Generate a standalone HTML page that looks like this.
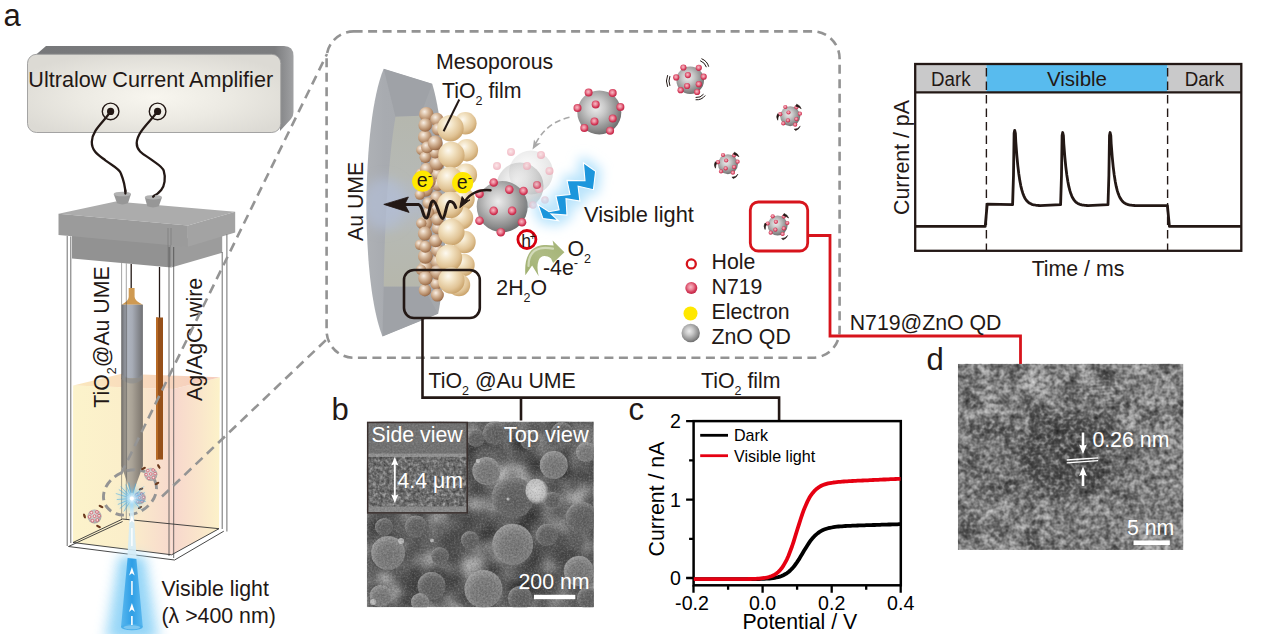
<!DOCTYPE html>
<html><head><meta charset="utf-8"><title>figure</title>
<style>
html,body{margin:0;padding:0;background:#fff;overflow:hidden}
svg{display:block}
text{font-family:"Liberation Sans",sans-serif;fill:#231815}
text.w{fill:#fff}
text.k{fill:#000}
</style></head><body>
<svg width="1269" height="634" viewBox="0 0 1269 634">
<defs>
<radialGradient id="ampFace" cx="0.5" cy="0.55" r="0.6"><stop offset="0" stop-color="#f8f6ef"/><stop offset="0.5" stop-color="#eceae3"/><stop offset="1" stop-color="#dcdad4"/></radialGradient>
<linearGradient id="ampSide" x1="0" y1="0" x2="1" y2="0"><stop offset="0" stop-color="#77787a"/><stop offset="0.93" stop-color="#7c7d7f"/><stop offset="1" stop-color="#a0a1a3"/></linearGradient>
<linearGradient id="cyl" x1="0" y1="0" x2="1" y2="0"><stop offset="0" stop-color="#6f7074"/><stop offset="0.3" stop-color="#aeb4bf"/><stop offset="0.5" stop-color="#a7acb6"/><stop offset="1" stop-color="#707174"/></linearGradient>
<linearGradient id="cylLiq" x1="0" y1="0" x2="1" y2="0"><stop offset="0" stop-color="#7a7672"/><stop offset="0.3" stop-color="#b3ac9f"/><stop offset="0.5" stop-color="#a9a296"/><stop offset="1" stop-color="#7b746c"/></linearGradient>
<linearGradient id="liqFront" x1="0" y1="0" x2="1" y2="0"><stop offset="0" stop-color="#fcf3cb"/><stop offset="0.55" stop-color="#fbeeca"/><stop offset="1" stop-color="#f7d8cd"/></linearGradient>
<linearGradient id="liqRight" x1="0" y1="0" x2="1" y2="0"><stop offset="0" stop-color="#f7d6cd"/><stop offset="0.6" stop-color="#fae6cb"/><stop offset="1" stop-color="#fcf2c9"/></linearGradient>
<linearGradient id="liqTop" x1="0" y1="0" x2="1" y2="0"><stop offset="0" stop-color="#fbe8bd"/><stop offset="0.5" stop-color="#f8d9bd"/><stop offset="1" stop-color="#f5cbbd"/></linearGradient>
<radialGradient id="gsph" cx="0.42" cy="0.4" r="0.62"><stop offset="0" stop-color="#ececec"/><stop offset="0.35" stop-color="#c8c8c8"/><stop offset="0.8" stop-color="#8c8c8c"/><stop offset="1" stop-color="#6c6c6c"/></radialGradient>
<radialGradient id="rdot" cx="0.45" cy="0.42" r="0.6"><stop offset="0" stop-color="#f6bcc6"/><stop offset="0.4" stop-color="#ea8094"/><stop offset="0.72" stop-color="#d43c5a"/><stop offset="1" stop-color="#bd2042"/></radialGradient>
<radialGradient id="pdot" cx="0.45" cy="0.42" r="0.6"><stop offset="0" stop-color="#fbe3e6"/><stop offset="0.6" stop-color="#f3bcc6"/><stop offset="1" stop-color="#eba6b4"/></radialGradient>
<radialGradient id="bsph" cx="0.38" cy="0.33" r="0.75"><stop offset="0" stop-color="#f8efe6"/><stop offset="0.35" stop-color="#d9bca0"/><stop offset="0.75" stop-color="#b08460"/><stop offset="1" stop-color="#875a3c"/></radialGradient>
<radialGradient id="csph" cx="0.38" cy="0.33" r="0.78"><stop offset="0" stop-color="#fdf9f0"/><stop offset="0.3" stop-color="#f2e2c2"/><stop offset="0.65" stop-color="#e1c496"/><stop offset="0.9" stop-color="#c9a26a"/><stop offset="1" stop-color="#a87f4c"/></radialGradient>
<linearGradient id="beam" x1="0" y1="0" x2="1" y2="0"><stop offset="0" stop-color="#59b7ee"/><stop offset="0.5" stop-color="#2f9fe6"/><stop offset="1" stop-color="#59b7ee"/></linearGradient>
<filter id="blur2" x="-50%" y="-50%" width="200%" height="200%"><feGaussianBlur stdDeviation="2"/></filter>
<filter id="blur4" x="-50%" y="-50%" width="200%" height="200%"><feGaussianBlur stdDeviation="4"/></filter>
<filter id="blur6" x="-100%" y="-100%" width="300%" height="300%"><feGaussianBlur stdDeviation="6"/></filter>
<g id="qdS"><circle r="10" fill="url(#gsph)"/><g fill="url(#rdot)"><circle cx="-4.9" cy="-9.2" r="2.1"/><circle cx="6.2" cy="-8.9" r="2.1"/><circle cx="-10.0" cy="-2.0" r="2.1"/><circle cx="-1.7" cy="-3.7" r="2.1"/><circle cx="9.7" cy="-2.5" r="2.1"/><circle cx="6.2" cy="2.9" r="2.1"/><circle cx="-2.2" cy="4.2" r="2.1"/><circle cx="-6.9" cy="7.2" r="2.1"/><circle cx="5.0" cy="8.5" r="2.1"/></g></g>
<g id="qdM"><circle r="13.8" fill="url(#gsph)"/><g fill="url(#rdot)"><circle cx="-6.8" cy="-12.7" r="3.1"/><circle cx="8.6" cy="-12.4" r="3.1"/><circle cx="-14.0" cy="-2.8" r="3.1"/><circle cx="-2.3" cy="-5.1" r="3.1"/><circle cx="13.5" cy="-3.5" r="3.1"/><circle cx="8.6" cy="4.0" r="3.1"/><circle cx="-3.1" cy="5.8" r="3.1"/><circle cx="-9.6" cy="10.0" r="3.1"/><circle cx="6.9" cy="11.8" r="3.1"/></g></g>
<g id="qdT"><circle r="10" fill="#d2cfcb"/><circle r="10" fill="url(#gsph)" opacity="0.45"/>
<g fill="#f6e6e3" stroke="#d2475c" stroke-width="1"><circle cx="-4.5" cy="-5.5" r="2"/><circle cx="3.5" cy="-6.5" r="2"/><circle cx="-7" cy="0.5" r="2"/><circle cx="0" cy="-0.5" r="2"/><circle cx="6.5" cy="-1" r="2"/><circle cx="4" cy="5" r="2"/><circle cx="-3" cy="6" r="2"/></g></g>
</defs>
<rect width="1269" height="634" fill="#fff"/>
<!-- ===== panel a : apparatus ===== -->
<text x="3.5" y="26" font-size="31">a</text>
<!-- amplifier -->
<path d="M27.5,62 L46,46 L284,46 Q293.5,46 293.5,56 L293.5,112 Q293.5,116 291,119 L280,131 L280,62 Z" fill="url(#ampSide)"/>
<rect x="27.500" y="54.300" width="253.300" height="78.200" rx="9" fill="url(#ampFace)" stroke="#9b9b9b" stroke-width="0.9"/>
<text x="28.3" y="87" font-size="21.6">Ultralow Current Amplifier</text>
<g fill="none" stroke="#231815" stroke-width="1.4"><circle cx="110.6" cy="111.4" r="8.3"/><circle cx="157.6" cy="111.4" r="8.3"/></g>
<circle cx="110.6" cy="111.4" r="3.6" fill="#231815"/><circle cx="157.6" cy="111.4" r="3.6" fill="#231815"/>
<!-- wires -->
<g fill="none" stroke="#231815" stroke-width="2.3" stroke-linecap="round">
<path d="M110.6,111.4 C104,122 92,130 91.8,141.7 C91.6,152 100,156 105.7,160.6 C113,166 119,168.5 120.8,173.2 C124,181 125.3,187 125.4,193.5"/>
<path d="M157.6,111.4 C150,122 137,132 136.7,143 C136.5,152 146,155.5 151,159.3 C157,164 162,166 163.7,170.7 C166,178 164.5,186 161.2,190 C159,193 156,195 153.1,196.5"/>
</g>
<!-- lid -->
<polygon points="72,232 171.3,242 171.3,267.6 72,258.6" fill="#929292"/>
<polygon points="171.3,242 222.2,230 222.2,252.7 171.3,267.6" fill="#9c9c9c"/>
<polygon points="58.5,213.7 115.7,201.4 235.2,211.8 187.9,225.5" fill="#acacac"/>
<polygon points="58.5,213.7 187.9,225.5 187.9,246.8 58.5,235" fill="#9b9b9b"/>
<polygon points="187.9,225.5 235.2,211.8 235.2,232.6 187.9,246.8" fill="#a3a3a3"/>
<!-- plugs -->
<path d="M113.7,194 L131,194 L128,203.3 Q122.4,205.5 117,203.3 Z" fill="#979797"/><ellipse cx="122.35" cy="194" rx="8.65" ry="2.3" fill="#b2b2b2"/>
<path d="M144.8,197.2 L162,197.2 L158.8,206.3 Q153,208.5 147.3,206.3 Z" fill="#979797"/><ellipse cx="153.4" cy="197.2" rx="8.6" ry="2.3" fill="#b2b2b2"/>
<path d="M125.4,193.5 l0,-3 M153.1,196.8 l1,-1" stroke="#231815" stroke-width="2.3" stroke-linecap="round"/>
<!-- liquid -->
<polygon points="73.1,385.6 173.7,389.1 171.6,554.8 73,542.5" fill="url(#liqFront)"/>
<polygon points="173.7,389.1 219.8,377.3 219,528.7 171.6,554.8" fill="url(#liqRight)"/>
<polygon points="73.1,385.6 121.6,373.8 219.8,377.3 173.7,389.1" fill="url(#liqTop)"/>
<!-- electrode -->
<line x1="131.2" y1="264" x2="131.2" y2="289" stroke="#231815" stroke-width="1.3"/>
<path d="M128.7,288 L134.6,288 L134.6,297 Q135,301 142.9,304.7 L121.6,304.7 Q128.5,301 128.7,297 Z" fill="#cf9a52"/>
<rect x="121.6" y="304.7" width="21.3" height="74" fill="url(#cyl)"/>
<path d="M121.6,378 L142.9,378 L142.9,466 L133,493 L130.6,493 L121.6,466 Z" fill="url(#cylLiq)"/>
<path d="M121.6,374 Q132,383 142.9,374 L142.9,379 Q132,388 121.6,379Z" fill="#8c8d8f" opacity="0.6"/>
<!-- Ag/AgCl -->
<line x1="159.5" y1="267" x2="159.5" y2="318" stroke="#231815" stroke-width="1.3"/>
<rect x="156" y="317.5" width="7" height="142" fill="#96501a"/>
<rect x="156" y="317.5" width="2" height="142" fill="#b86a26"/>
<!-- cell glass edges -->
<g stroke="#4a4a4a" stroke-width="0.8" fill="none">
<path d="M67.2,236 L67.2,546 M70.8,236.5 L70.8,543"/>
<path d="M169,247 L169,556 M173.7,247 L173.7,558"/>
<path d="M222.2,252 L222.2,529 M226.9,234.5 L226.9,531.5"/>
<path d="M121.6,263 L121.6,519 M126.3,263.5 L126.3,519.5" stroke-width="0.5"/>
<path d="M168,228 L168,266 M171,228 L171,266" stroke="#7e7e7e" stroke-width="0.8"/>
</g>
<g stroke="#333" stroke-width="0.9" fill="none">
<path d="M68.5,546.5 L174.6,560 L223.8,531.2"/>
<path d="M73,542.5 L171.6,554.8 L219,528.7"/>
<path d="M73,542.5 L122.6,519 L219,528.7"/>
<path d="M68.5,546.5 L122.6,521.5"/>
</g>
<!-- rotated labels -->
<text transform="translate(108.5,407.7) rotate(-90)" font-size="21.3">TiO<tspan font-size="12.5" dy="7">2</tspan><tspan dy="-7">@Au UME</tspan></text>
<text transform="translate(201.5,401) rotate(-90)" font-size="21.3">Ag/AgCl wire</text>
<!-- dashed zoom lines -->
<g stroke="#949494" stroke-width="2.600" stroke-dasharray="9.500 6" fill="none">
<line x1="121" y1="474" x2="327" y2="54"/>
<line x1="162" y1="496.500" x2="326" y2="340"/>
<ellipse cx="130" cy="492.5" rx="27.5" ry="21.5" transform="rotate(-25 130 492.5)" stroke-width="2.900" stroke-dasharray="8.500 5"/>
</g>
<!-- particles in cell -->
<use href="#qdT" transform="translate(150.8,474.3) scale(0.66)"/>
<use href="#qdT" transform="translate(94.5,516.5) scale(0.7)"/>
<use href="#qdT" transform="translate(139.5,498) scale(0.62)"/>
<g fill="#6b3a1e"><ellipse cx="143.5" cy="468.5" rx="2.6" ry="1.2" transform="rotate(-25 143.5 468.5)"/><ellipse cx="158.8" cy="466.5" rx="2.6" ry="1.2" transform="rotate(60 158.8 466.5)"/><ellipse cx="157" cy="483.5" rx="2.6" ry="1.2" transform="rotate(-30 157 483.5)"/>
<ellipse cx="84.5" cy="516" rx="2.6" ry="1.2" transform="rotate(70 84.5 516)"/><ellipse cx="101" cy="506.5" rx="2.6" ry="1.2" transform="rotate(25 101 506.5)"/><ellipse cx="98.5" cy="526.5" rx="2.6" ry="1.2" transform="rotate(25 98.5 526.5)"/>
<ellipse cx="141" cy="489" rx="2.4" ry="1.1" transform="rotate(-20 141 489)"/><ellipse cx="140" cy="507.5" rx="2.4" ry="1.1" transform="rotate(-30 140 507.5)"/></g>
<!-- light beam -->
<g filter="url(#blur6)" opacity="0.9"><polygon points="118,556 146,556 160,640 104,640" fill="#a5dcf8"/></g><g filter="url(#blur4)" opacity="0.8"><polygon points="124,560 140,560 150,636 114,636" fill="#8fd3f7"/></g>
<polygon points="130.6,500 133,500 136.6,558.5 127.4,557.3" fill="#d5ecf7" opacity="0.9"/>
<polygon points="127.6,558 136.4,559 142.8,627 121,627" fill="url(#beam)"/>
<ellipse cx="131.9" cy="627" rx="10.9" ry="3.2" fill="#49aeea"/>
<ellipse cx="131.9" cy="627.3" rx="8.5" ry="2" fill="#7cc6f0"/>
<g fill="#fff"><path d="M131.9,515 l2.6,8 l-2.6,-2 l-2.6,2z"/><path d="M131.9,567 l2.8,8.5 l-2.8,-2.2 l-2.8,2.2z"/><path d="M131.9,603 l3,9 l-3,-2.4 l-3,2.4z"/><rect x="131.2" y="528" width="1.4" height="18"/><rect x="131.2" y="581" width="1.5" height="14"/><rect x="131.1" y="616" width="1.6" height="9"/></g>
<!-- glow at tip -->
<g filter="url(#blur4)"><circle cx="131.8" cy="498.500" r="9" fill="#69c3f5" opacity="0.85"/></g>
<g stroke="#3fa9e8" stroke-width="0.6" opacity="0.9"><path d="M131.800,498.500 l-16,-5 M131.800,498.500 l-14,6 M131.800,498.500 l-11,-12 M131.800,498.500 l-8,13 M131.800,498.500 l12,-12 M131.800,498.500 l14,3 M131.800,498.500 l9,11 M131.800,498.500 l-3,-16 M131.800,498.500 l4,-15 M131.800,498.500 l-15,1 M131.800,498.500 l-12,10 M131.800,498.500 l13,-6 M131.800,498.500 l-6,-14 M131.800,498.500 l-13,-9"/></g>
<g filter="url(#blur2)"><circle cx="131.8" cy="498.500" r="4.2" fill="#fff"/></g>
<circle cx="131.8" cy="498.500" r="2" fill="#fff"/>
<text x="161.5" y="596" font-size="21.3">Visible light</text>
<text x="161.5" y="623" font-size="21.3">(λ &gt;400 nm)</text>
<!-- ===== center schematic ===== -->
<rect x="326.600" y="31.400" width="513" height="326.300" rx="27" fill="none" stroke="#939393" stroke-width="2.600" stroke-dasharray="9 5.500"/>
<defs>
<clipPath id="umeClip"><path d="M383.7,68.8 C362,120 360,280 382.5,336.5 L438.2,313.7 C449,260 449,140 432.2,83.7 Z"/></clipPath>
<linearGradient id="umeG" x1="0" y1="0" x2="1" y2="0"><stop offset="0" stop-color="#b2b5b9"/><stop offset="0.3" stop-color="#a8abb0"/><stop offset="1" stop-color="#a3a6aa"/></linearGradient>
<linearGradient id="umeIn" x1="0" y1="0" x2="0" y2="1"><stop offset="0" stop-color="#b5b7ae"/><stop offset="0.35" stop-color="#b6b9b5"/><stop offset="0.52" stop-color="#b3bac6"/><stop offset="0.7" stop-color="#b6b9b3"/><stop offset="1" stop-color="#b6b7ac"/></linearGradient>
</defs>
<g clip-path="url(#umeClip)">
<rect x="355" y="60" width="100" height="290" fill="url(#umeG)"/>
<polygon points="383.7,68.800 432.2,83.700 420.4,115.700 395.5,116.800" fill="#9fa2a7"/>
<polygon points="383.700,286.500 422.800,286.500 438.200,313.700 382.500,336.500" fill="#9fa2a7"/>
<path d="M395.5,116.8 L420.4,115.7 L422.8,286.5 L383.7,286.5 C384.500,230 388,160 395.500,116.800Z" fill="url(#umeIn)"/>
<g filter="url(#blur6)"><ellipse cx="384" cy="204" rx="22" ry="26" fill="#b2bdd6" opacity="0.7"/></g>
</g>
<g>
<circle cx="425.7" cy="189.7" r="7.1" fill="url(#bsph)"/>
<circle cx="435.8" cy="208.7" r="6.6" fill="url(#bsph)"/>
<circle cx="424.9" cy="290.2" r="6.2" fill="url(#bsph)"/>
<circle cx="438.2" cy="261.9" r="7.2" fill="url(#bsph)"/>
<circle cx="426.3" cy="114.2" r="7.3" fill="url(#bsph)"/>
<circle cx="428.4" cy="212.7" r="5.9" fill="url(#bsph)"/>
<circle cx="437.6" cy="250.3" r="6.5" fill="url(#bsph)"/>
<circle cx="421.4" cy="149.9" r="5.2" fill="url(#bsph)"/>
<circle cx="420.6" cy="173.5" r="5.2" fill="url(#bsph)"/>
<circle cx="436.9" cy="119.5" r="6.7" fill="url(#bsph)"/>
<circle cx="437.6" cy="174.4" r="6.3" fill="url(#bsph)"/>
<circle cx="424.8" cy="223.5" r="7.3" fill="url(#bsph)"/>
<circle cx="426.6" cy="169.4" r="6.6" fill="url(#bsph)"/>
<circle cx="420.0" cy="244.8" r="5.2" fill="url(#bsph)"/>
<circle cx="438.0" cy="228.4" r="6.2" fill="url(#bsph)"/>
<circle cx="425.3" cy="267.7" r="7.2" fill="url(#bsph)"/>
<circle cx="424.9" cy="136.9" r="6.9" fill="url(#bsph)"/>
<circle cx="436.3" cy="283.9" r="5.9" fill="url(#bsph)"/>
<circle cx="419.9" cy="194.6" r="5.2" fill="url(#bsph)"/>
<circle cx="421.3" cy="223.3" r="5.2" fill="url(#bsph)"/>
<circle cx="436.9" cy="163.3" r="7.2" fill="url(#bsph)"/>
<circle cx="436.6" cy="197.5" r="6.4" fill="url(#bsph)"/>
<circle cx="437.5" cy="219.3" r="6.3" fill="url(#bsph)"/>
<circle cx="437.8" cy="184.9" r="6.2" fill="url(#bsph)"/>
<circle cx="437.6" cy="272.3" r="7.4" fill="url(#bsph)"/>
<circle cx="421.0" cy="269.8" r="5.2" fill="url(#bsph)"/>
<circle cx="424.9" cy="233.7" r="7.1" fill="url(#bsph)"/>
<circle cx="435.7" cy="240.7" r="6.5" fill="url(#bsph)"/>
<circle cx="435.1" cy="152.6" r="5.9" fill="url(#bsph)"/>
<circle cx="425.3" cy="157.2" r="5.8" fill="url(#bsph)"/>
<circle cx="428.3" cy="203.0" r="5.8" fill="url(#bsph)"/>
<circle cx="425.2" cy="125.0" r="6.8" fill="url(#bsph)"/>
<circle cx="437.4" cy="295.1" r="6.5" fill="url(#bsph)"/>
<circle cx="427.1" cy="147.3" r="6.0" fill="url(#bsph)"/>
<circle cx="438.2" cy="129.3" r="6.3" fill="url(#bsph)"/>
<circle cx="425.4" cy="256.3" r="7.4" fill="url(#bsph)"/>
<circle cx="435.2" cy="142.9" r="7.4" fill="url(#bsph)"/>
<circle cx="425.4" cy="278.3" r="7.1" fill="url(#bsph)"/>
<circle cx="425.3" cy="246.7" r="6.0" fill="url(#bsph)"/>
<circle cx="428.5" cy="181.5" r="7.2" fill="url(#bsph)"/>
</g>
<g>
<circle cx="465.4" cy="123.3" r="11.2" fill="url(#csph)"/>
<circle cx="466.9" cy="150.2" r="11.2" fill="url(#csph)"/>
<circle cx="465.9" cy="174.7" r="11.2" fill="url(#csph)"/>
<circle cx="463.5" cy="199" r="11.2" fill="url(#csph)"/>
<circle cx="462.0" cy="218" r="11.2" fill="url(#csph)"/>
<circle cx="464.5" cy="242" r="11.2" fill="url(#csph)"/>
<circle cx="463.5" cy="265" r="11.2" fill="url(#csph)"/>
<circle cx="459.0" cy="285" r="11.2" fill="url(#csph)"/>
<circle cx="450.5" cy="128.2" r="13.2" fill="url(#csph)"/>
<circle cx="451.4" cy="155" r="13.2" fill="url(#csph)"/>
<circle cx="450.0" cy="180" r="13.2" fill="url(#csph)"/>
<circle cx="450.2" cy="205" r="13.2" fill="url(#csph)"/>
<circle cx="451.4" cy="232" r="13.2" fill="url(#csph)"/>
<circle cx="449.0" cy="257.8" r="13.2" fill="url(#csph)"/>
<circle cx="451.4" cy="280.5" r="13.2" fill="url(#csph)"/>
</g>
<!-- labels -->
<text x="436" y="68.500" font-size="21.300">Mesoporous</text>
<text x="442" y="98" font-size="21.3">TiO<tspan font-size="12.5" dy="7">2</tspan><tspan dy="-7"> film</tspan></text>
<line x1="459.3" y1="99.5" x2="443.6" y2="131.3" stroke="#231815" stroke-width="2"/>
<text transform="translate(363.300,241) rotate(-90)" font-size="21.3">Au UME</text>
<!-- electrons -->
<circle cx="422.700" cy="181.200" r="10.600" fill="#ffe800"/><circle cx="462.700" cy="182.700" r="10.600" fill="#ffe800"/>
<text x="416.800" y="187.300" font-size="19.500">e<tspan font-size="13" dy="-7">-</tspan></text>
<text x="456.800" y="188.500" font-size="19.500">e<tspan font-size="13" dy="-7">-</tspan></text>
<!-- ghost spheres -->
<g opacity="0.2"><circle cx="531" cy="172.5" r="22" fill="url(#gsph)"/></g>
<g opacity="0.38"><circle cx="520" cy="186" r="23.5" fill="url(#gsph)"/></g>
<g fill="url(#pdot)" opacity="0.8"><circle cx="511" cy="152" r="4"/><circle cx="541" cy="155" r="4"/><circle cx="497" cy="166" r="4"/><circle cx="549.5" cy="171" r="4"/><circle cx="527" cy="166" r="4"/><circle cx="539" cy="189" r="4"/><circle cx="545" cy="200" r="3.8"/><circle cx="533" cy="205" r="3.8"/></g>
<!-- main QD -->
<circle cx="502.2" cy="206.6" r="25.5" fill="url(#gsph)"/>
<g fill="url(#rdot)"><circle cx="493.7" cy="182.5" r="4.3"/><circle cx="509.3" cy="189.6" r="4.3"/><circle cx="523.5" cy="191" r="4.3"/><circle cx="479.5" cy="193.9" r="4.3"/><circle cx="493.7" cy="210.9" r="4.3"/><circle cx="512.1" cy="210.9" r="4.3"/><circle cx="479.5" cy="220.8" r="4.3"/><circle cx="500.8" cy="232.2" r="4.3"/><circle cx="522" cy="222.3" r="4.3"/><circle cx="537" cy="185" r="4" opacity="0.75"/></g>
<!-- electron arrow -->
<g fill="none" stroke="#231815" stroke-width="3" stroke-linecap="round" stroke-linejoin="round">
<path d="M490.5,190.3 C480,189 470.500,193 465.500,200.500" stroke-width="2.500"/>
<path d="M455.800,207.500 C454.500,203.500 452,201 449.500,201.500 C446,202.500 445.500,218.500 442.500,218.500 C439.500,218.500 437,201 433.100,201 C429.500,201 429.500,218 426.100,218 C423,218 422.500,205 418.500,204.600 L404,204.400"/>
</g>
<path d="M459.800,207.700 L462.100,196.600 L465.400,201.200 L470,199.800 Z" fill="#231815" stroke="#231815" stroke-width="1" stroke-linejoin="round"/>
<path d="M383.800,204.400 L408.400,197 L404.700,204.300 L409.100,212.400 Z" fill="#231815" stroke="#231815" stroke-width="0.800" stroke-linejoin="round"/>
<!-- lightning -->
<g filter="url(#blur6)"><polygon points="583.4,162.8 595.6,171.2 593.4,189.7 578.1,186.3 579.9,201.1 566,198.7 567,215.1 551.1,214 558.3,220.6 542.9,218.5 537.9,204.5 549,211.7 559.1,209.8 555.9,195.9 570,194.5 567,180.4 585,180.7" fill="#9edbfb" stroke="#b9e4fc" stroke-width="11" stroke-linejoin="round"/></g>
<polygon points="583.4,162.8 595.6,171.2 593.4,189.7 578.1,186.3 579.9,201.1 566,198.7 567,215.1 551.1,214 558.3,220.6 542.9,218.5 537.9,204.5 549,211.7 559.1,209.8 555.9,195.9 570,194.5 567,180.4 585,180.7" fill="#1c96dc" stroke="#fff" stroke-width="1.1" stroke-linejoin="miter"/>
<text x="584" y="222.300" font-size="21.800">Visible light</text>
<!-- hole & reaction -->
<circle cx="526.900" cy="239.500" r="9" fill="#fff" stroke="#d7000f" stroke-width="2.800"/>
<text x="521.300" y="247" font-size="17.500">h<tspan font-size="10" dy="-7.500" dx="-1.200">+</tspan></text>
<defs><linearGradient id="grn" x1="0" y1="1" x2="1" y2="0"><stop offset="0" stop-color="#9fb06f"/><stop offset="0.5" stop-color="#aebb84"/><stop offset="1" stop-color="#a3b374"/></linearGradient></defs>
<path d="M525.400,275.300 C524.300,262 527,251 537,246.600 C542,244.500 548,244.800 553.600,245.500 L552.600,240.400 L564.400,252.200 L553.100,262.900 L551,258.400 C545,254.300 540.300,256 538.600,260.500 C536.700,266 537.500,271 538.700,276.300 L532.100,265.500 Z" fill="url(#grn)"/><path d="M528.500,266 C528.500,257 532,250.500 540,248.500 C544,247.600 549,248 553,248.600" fill="none" stroke="#dfe6cc" stroke-width="2.200" stroke-linecap="round" opacity="0.75"/>
<text x="567.500" y="255.500" font-size="21.300">O<tspan font-size="12.500" dy="7.500">2</tspan></text>
<text x="543" y="275" font-size="21.300">-4e<tspan font-size="13" dy="-8">-</tspan></text>
<text x="496.3" y="294.6" font-size="21.3">2H<tspan font-size="12.5" dy="7">2</tspan><tspan dy="-7">O</tspan></text>
<!-- approaching QD -->
<circle cx="599.3" cy="112.4" r="22" fill="url(#gsph)"/>
<g fill="url(#rdot)"><circle cx="588.6" cy="92.5" r="4"/><circle cx="612.7" cy="93.1" r="4"/><circle cx="577.5" cy="108.1" r="4"/><circle cx="595.7" cy="104.4" r="4"/><circle cx="620.4" cy="107" r="4"/><circle cx="612.7" cy="118.6" r="4"/><circle cx="594.5" cy="121.5" r="4"/><circle cx="584.3" cy="128" r="4"/><circle cx="610.1" cy="130.8" r="4"/></g>
<path d="M569.5,117.2 C553,121 542,131 536,143" fill="none" stroke="#a8a8a8" stroke-width="1.6" stroke-dasharray="6 3.5"/>
<path d="M532.5,149.5 l1.5,-10 l2.5,4 l4.5,-0.5z" fill="#a8a8a8"/>
<!-- small QDs -->
<use href="#qdM" transform="translate(690.2,80.2)"/>
<g fill="none" stroke="#231815" stroke-width="1" stroke-linecap="round"><path d="M700.500,60.800 q4.500,1.800 5.800,6 M701.800,58.800 q5.500,2.300 6.800,7.500 M669.800,76.500 q-1.800,4.500 0,9 M667.500,75.500 q-2.300,5.500 0,11 M696,97.500 q4.500,0.500 7.300,-3 M696,99.800 q5.500,0.500 9,-4"/></g>
<use href="#qdS" transform="translate(790.2,116.2)"/>
<use href="#qdS" transform="translate(727.9,164.2)"/>
<use href="#qdS" transform="translate(777.6,225.5)"/>
<g fill="#231815" stroke="#231815" stroke-width="0.6" stroke-linejoin="round"><path d="M796.7,104.2 q3.5,1.2 4.5,4.500 q-2.500,-2 -5.500,-2.500z M777.7,113.7 q-2,3 0,6.500 q0.300,-3.500 1.300,-4.800z M794.2,129.2 q4,0 6,-3 q-1,3 -4.500,4.300z"/><path d="M734.4,152.2 q3.5,1.2 4.5,4.500 q-2.500,-2 -5.500,-2.500z M715.4,161.7 q-2,3 0,6.500 q0.300,-3.500 1.300,-4.800z M731.9,177.2 q4,0 6,-3 q-1,3 -4.500,4.300z"/><path d="M784.1,213.5 q3.5,1.2 4.5,4.500 q-2.500,-2 -5.500,-2.500z M765.1,223.0 q-2,3 0,6.500 q0.300,-3.500 1.300,-4.800z M781.6,238.5 q4,0 6,-3 q-1,3 -4.500,4.300z"/></g>
<!-- red box + connector -->
<rect x="750.3" y="202" width="57.4" height="49" rx="8" fill="none" stroke="#d7141c" stroke-width="2.800"/>
<path d="M807.7,235.5 L830,235.5 L830,336 L1020.5,336 L1020.500,364.500" fill="none" stroke="#d7141c" stroke-width="2.800"/>
<text x="849.700" y="329.800" font-size="21.300">N719@ZnO QD</text>
<!-- legend -->
<circle cx="691.3" cy="263.9" r="4.500" fill="#fff" stroke="#d7141c" stroke-width="2.300"/>
<circle cx="691.3" cy="288" r="6" fill="url(#rdot)"/>
<circle cx="690.500" cy="313.500" r="7" fill="#ffe800"/>
<circle cx="690.700" cy="333" r="9.200" fill="url(#gsph)"/>
<text x="711.500" y="268.900" font-size="21.300">Hole</text>
<text x="711.500" y="293.500" font-size="21.300">N719</text>
<text x="711.500" y="318.500" font-size="21.300">Electron</text>
<text x="711.500" y="343.500" font-size="21.300">ZnO QD</text>
<!-- black box and connectors -->
<rect x="404" y="270" width="75.800" height="48" rx="10" fill="none" stroke="#231815" stroke-width="2.600"/>
<path d="M422.500,318 L422.500,397.600 L779.100,397.600 L779.100,420.500 M521,397.600 L521,420.500" fill="none" stroke="#231815" stroke-width="2.600"/>
<text x="428.500" y="388" font-size="21.300">TiO<tspan font-size="12.500" dy="7">2</tspan><tspan dy="-7"> @Au UME</tspan></text>
<text x="701" y="388" font-size="21.300">TiO<tspan font-size="12.500" dy="7">2</tspan><tspan dy="-7"> film</tspan></text>
<!-- ===== top-right trace chart ===== -->
<rect x="915.2" y="64" width="71.2" height="28.3" fill="#c9c9ca"/>
<rect x="986.4" y="64" width="181.2" height="28.3" fill="#58bbee"/>
<rect x="1167.6" y="64" width="73.7" height="28.3" fill="#c9c9ca"/>
<g stroke="#231815" stroke-width="1.4" stroke-dasharray="8.5 5"><line x1="986.4" y1="68" x2="986.4" y2="250.8"/><line x1="1167.6" y1="68" x2="1167.6" y2="250.8"/></g>
<rect x="915.2" y="64" width="326.1" height="186.8" fill="none" stroke="#231815" stroke-width="2.3"/>
<line x1="915.2" y1="92.3" x2="1241.3" y2="92.3" stroke="#231815" stroke-width="2.3"/>
<polyline fill="none" stroke="#231815" stroke-width="2.8" stroke-linejoin="round" points="915.2,226.3 985.2,226.3 987.2,204.2 1012.6,204.7 1013.5,175.2 1014.1,133.3 1014.7,130.3 1015.4,133.3 1015.8,141.8 1016.8,155.1 1017.8,165.6 1018.8,173.9 1019.8,180.6 1020.8,185.8 1021.8,189.9 1022.8,193.2 1023.8,195.8 1024.8,197.9 1025.8,199.5 1026.8,200.8 1027.8,201.9 1028.8,202.7 1029.8,203.3 1030.8,203.8 1031.8,204.3 1032.8,204.6 1033.8,204.8 1034.8,205.0 1035.8,205.2 1036.8,205.3 1037.8,205.4 1038.8,205.5 1039.8,205.6 1060.6,204.7 1061.5,175.2 1062.1,135.5 1062.7,132.5 1063.4,135.5 1063.8,143.8 1064.8,156.6 1065.8,166.8 1066.8,174.9 1067.8,181.3 1068.8,186.4 1069.8,190.4 1070.8,193.6 1071.8,196.1 1072.8,198.1 1073.8,199.7 1074.8,201.0 1075.8,202.0 1076.8,202.8 1077.8,203.4 1078.8,203.9 1079.8,204.3 1080.8,204.6 1081.8,204.9 1082.8,205.1 1083.8,205.2 1084.8,205.3 1085.8,205.4 1086.8,205.5 1087.8,205.6 1108.0,204.7 1108.9,175.2 1109.5,135.5 1110.1,132.5 1110.8,135.5 1111.2,143.8 1112.2,156.6 1113.2,166.8 1114.2,174.9 1115.2,181.3 1116.2,186.4 1117.2,190.4 1118.2,193.6 1119.2,196.1 1120.2,198.1 1121.2,199.7 1122.2,201.0 1123.2,202.0 1124.2,202.8 1125.2,203.4 1126.2,203.9 1127.2,204.3 1128.2,204.6 1129.2,204.9 1130.2,205.1 1131.2,205.2 1132.2,205.3 1133.2,205.4 1134.2,205.5 1135.2,205.6 1167.4,205.7 1169.4,226.3 1241.3,226.3"/>
<text x="950.8" y="85.7" font-size="20" text-anchor="middle" textLength="39.5" lengthAdjust="spacingAndGlyphs">Dark</text>
<text x="1077.0" y="85.7" font-size="20.5" text-anchor="middle">Visible</text>
<text x="1204.4" y="85.7" font-size="20" text-anchor="middle" textLength="39.5" lengthAdjust="spacingAndGlyphs">Dark</text>
<text transform="translate(908.5,157.5) rotate(-90)" font-size="21.3" text-anchor="middle">Current / pA</text>
<text x="1078" y="276.3" font-size="21.3" text-anchor="middle">Time / ms</text>
<!-- ===== panel b (SEM) ===== -->
<defs>
<filter id="semGrain" x="0" y="0" width="100%" height="100%" color-interpolation-filters="sRGB"><feTurbulence type="fractalNoise" baseFrequency="0.55" numOctaves="2" seed="8" result="n"/><feColorMatrix in="n" type="matrix" values="0 0 0 0 0  0 0 0 0 0  0 0 0 0 0  -2.2 0 0 0 1.1" result="d"/><feColorMatrix in="n" type="matrix" values="0 0 0 0 1  0 0 0 0 1  0 0 0 0 1  2.2 0 0 0 -1.1" result="l"/><feMerge><feMergeNode in="d"/><feMergeNode in="l"/></feMerge></filter>
<filter id="semInset" x="0" y="0" width="100%" height="100%" color-interpolation-filters="sRGB"><feTurbulence type="fractalNoise" baseFrequency="0.3" numOctaves="2" seed="3" result="n"/><feColorMatrix in="n" type="matrix" values="0 0 0 0 0  0 0 0 0 0  0 0 0 0 0  -1.4 0 0 0 0.7" result="d"/><feColorMatrix in="n" type="matrix" values="0 0 0 0 1  0 0 0 0 1  0 0 0 0 1  1.4 0 0 0 -0.7" result="l"/><feMerge><feMergeNode in="d"/><feMergeNode in="l"/></feMerge></filter>
<filter id="semCoarse" x="0" y="0" width="100%" height="100%" color-interpolation-filters="sRGB"><feTurbulence type="fractalNoise" baseFrequency="0.035" numOctaves="2" seed="14" result="n"/><feColorMatrix in="n" type="matrix" values="0 0 0 0 0  0 0 0 0 0  0 0 0 0 0  -2.5 0 0 0 1.25" result="d"/><feColorMatrix in="n" type="matrix" values="0 0 0 0 1  0 0 0 0 1  0 0 0 0 1  2.5 0 0 0 -1.25" result="l"/><feMerge><feMergeNode in="d"/><feMergeNode in="l"/></feMerge></filter>
<radialGradient id="semB" cx="0.56" cy="0.6" r="0.66"><stop offset="0" stop-color="#767676"/><stop offset="0.55" stop-color="#7e7e7e"/><stop offset="0.8" stop-color="#929292"/><stop offset="0.93" stop-color="#a4a4a4" stop-opacity="0.9"/><stop offset="1" stop-color="#a0a0a0" stop-opacity="0"/></radialGradient>
<radialGradient id="semD" cx="0.58" cy="0.62" r="0.68"><stop offset="0" stop-color="#606060"/><stop offset="0.6" stop-color="#686868"/><stop offset="0.82" stop-color="#7e7e7e"/><stop offset="0.94" stop-color="#9a9a9a" stop-opacity="0.9"/><stop offset="1" stop-color="#9a9a9a" stop-opacity="0"/></radialGradient>
<radialGradient id="semW" cx="0.45" cy="0.42" r="0.6"><stop offset="0" stop-color="#d2d2d2"/><stop offset="0.7" stop-color="#bcbcbc"/><stop offset="1" stop-color="#8a8a8a" stop-opacity="0.2"/></radialGradient>
<clipPath id="bclip"><rect x="366.8" y="421.6" width="227.0" height="185.6"/></clipPath>
</defs>
<g clip-path="url(#bclip)">
<rect x="366.8" y="421.6" width="227.0" height="185.6" fill="#626262"/>
<rect x="366.8" y="421.6" width="227.0" height="185.6" filter="url(#semCoarse)" opacity="0.6"/>
<g filter="url(#blur4)" fill="#4a4a4a" opacity="0.75"><circle cx="454" cy="547" r="15"/><circle cx="553.8" cy="547" r="13"/><circle cx="439" cy="585" r="11"/><circle cx="500" cy="455" r="10"/><circle cx="560" cy="512" r="9"/><circle cx="470" cy="520" r="10"/><circle cx="548" cy="588" r="12"/><circle cx="405" cy="580" r="9"/><circle cx="575" cy="440" r="9"/><circle cx="455" cy="505" r="10"/></g>
<circle cx="581.7" cy="517.8" r="16" fill="url(#semD)"/>
<circle cx="553.8" cy="465" r="14" fill="url(#semB)"/>
<circle cx="486.3" cy="470.9" r="14" fill="url(#semB)"/>
<circle cx="512.7" cy="497.3" r="21" fill="url(#semD)"/>
<circle cx="512.7" cy="544.2" r="20.5" fill="url(#semB)"/>
<circle cx="483.4" cy="589" r="19" fill="url(#semB)"/>
<circle cx="578.7" cy="571" r="15" fill="url(#semB)"/>
<circle cx="388" cy="553" r="17" fill="url(#semB)"/>
<circle cx="415.9" cy="526.6" r="11" fill="url(#semD)"/>
<circle cx="380.7" cy="596" r="11" fill="url(#semB)"/>
<circle cx="431.5" cy="586" r="14" fill="url(#semD)"/>
<circle cx="547" cy="535" r="11" fill="url(#semD)"/>
<circle cx="495" cy="433" r="12" fill="url(#semD)"/>
<circle cx="562" cy="433" r="11" fill="url(#semD)"/>
<circle cx="586" cy="452" r="10" fill="url(#semB)"/>
<circle cx="384" cy="527" r="9" fill="url(#semD)"/>
<circle cx="440" cy="556" r="9" fill="url(#semD)"/>
<circle cx="588" cy="598" r="11" fill="url(#semD)"/>
<circle cx="476" cy="438" r="9" fill="url(#semD)"/>
<circle cx="552" cy="500" r="8" fill="url(#semD)"/>
<circle cx="530" cy="440" r="10" fill="url(#semD)"/>
<circle cx="420" cy="602" r="9" fill="url(#semB)"/>
<circle cx="520" cy="598" r="12" fill="url(#semD)"/>
<circle cx="470" cy="540" r="9" fill="url(#semD)"/>
<ellipse cx="537.2" cy="491.5" rx="11.5" ry="13" fill="url(#semW)" transform="rotate(-20 537.2 491.5)"/>
<g fill="#c4c4c4" opacity="0.85"><circle cx="432" cy="540.5" r="2"/><circle cx="508" cy="499" r="1.6"/><circle cx="478" cy="461" r="2.2"/><circle cx="373" cy="602" r="3"/><circle cx="401" cy="541" r="3"/></g>
<rect x="366.8" y="421.6" width="227.0" height="185.6" filter="url(#semGrain)" opacity="0.2"/>
<rect x="367.6" y="422.4" width="99.6" height="90.5" fill="#727272"/>
<rect x="367.6" y="455" width="99.6" height="52" fill="#6c6c6c"/>
<rect x="367.6" y="455" width="99.6" height="52" filter="url(#semInset)" opacity="0.8"/>
<rect x="367.6" y="453.5" width="99.6" height="3.5" fill="#9a9a9a" opacity="0.8"/>
<rect x="367.6" y="506.5" width="99.6" height="7" fill="#8a8a8a"/>
<rect x="367.6" y="422.4" width="99.6" height="90.5" filter="url(#semGrain)" opacity="0.15"/>
<rect x="367.6" y="422.4" width="99.6" height="90.5" fill="none" stroke="#3a302e" stroke-width="1.6"/>
</g>
<g font-size="21.3"><text x="371.5" y="442.2" class="w">Side view</text><text x="503.8" y="442.2" class="w" textLength="85" lengthAdjust="spacingAndGlyphs">Top view</text><text x="397.5" y="488.4" class="w">4.4 μm</text><text x="518.5" y="589.2" class="w">200 nm</text></g>
<rect x="534" y="594.8" width="41.3" height="4.4" fill="#fff"/>
<path d="M394.8,457 l3.6,8.5 l-2.7,-1 l0,31 l2.7,-1 l-3.6,8.5 l-3.6,-8.5 l2.7,1 l0,-31 l-2.7,1z" fill="#fff"/>
<text x="331.5" y="420" font-size="31">b</text>
<!-- ===== panel c ===== -->
<rect x="693.6" y="421.1" width="207.2" height="164.2" fill="#fff" stroke="#000" stroke-width="2.5"/>
<path d="M693.5,585.3 v7.5 M762.6,585.3 v7.5 M831.7,585.3 v7.5 M900.7,585.3 v7.5 M728.1,585.3 v4.5 M797.1,585.3 v4.5 M866.2,585.3 v4.5 M693.6,578.0 h-7.5 M693.6,499.6 h-7.5 M693.6,421.1 h-7.5 M693.6,538.8 h-4.5 M693.6,460.3 h-4.5" stroke="#000" stroke-width="2.3" fill="none"/>
<clipPath id="cclip"><rect x="693.6" y="421.1" width="207.2" height="164.2"/></clipPath>
<g clip-path="url(#cclip)">
<polyline fill="none" stroke="#000" stroke-width="3.8" stroke-linejoin="round" points="693.5,579.2 695.3,579.2 697.0,579.2 698.7,579.2 700.4,579.2 702.2,579.2 703.9,579.2 705.6,579.2 707.3,579.2 709.1,579.2 710.8,579.2 712.5,579.2 714.3,579.2 716.0,579.2 717.7,579.2 719.4,579.2 721.2,579.2 722.9,579.2 724.6,579.2 726.3,579.2 728.1,579.2 729.8,579.2 731.5,579.2 733.2,579.2 735.0,579.2 736.7,579.2 738.4,579.2 740.2,579.2 741.9,579.2 743.6,579.2 745.3,579.1 747.1,579.1 748.8,579.1 750.5,579.1 752.2,579.1 754.0,579.1 755.7,579.1 757.4,579.0 759.1,579.0 760.9,578.9 762.6,578.9 764.3,578.8 766.1,578.7 767.8,578.6 769.5,578.5 771.2,578.3 773.0,578.1 774.7,577.8 776.4,577.5 778.1,577.1 779.9,576.6 781.6,576.0 783.3,575.2 785.0,574.3 786.8,573.3 788.5,572.0 790.2,570.5 792.0,568.7 793.7,566.8 795.4,564.5 797.1,562.1 798.9,559.4 800.6,556.6 802.3,553.7 804.0,550.8 805.8,547.9 807.5,545.2 809.2,542.6 810.9,540.2 812.7,538.1 814.4,536.2 816.1,534.6 817.9,533.1 819.6,531.9 821.3,530.9 823.0,530.0 824.8,529.3 826.5,528.7 828.2,528.2 829.9,527.8 831.7,527.5 833.4,527.2 835.1,526.9 836.8,526.7 838.6,526.5 840.3,526.4 842.0,526.3 843.8,526.1 845.5,526.0 847.2,525.9 848.9,525.9 850.7,525.8 852.4,525.7 854.1,525.6 855.8,525.6 857.6,525.5 859.3,525.4 861.0,525.4 862.7,525.3 864.5,525.3 866.2,525.2 867.9,525.2 869.7,525.1 871.4,525.1 873.1,525.0 874.8,525.0 876.6,524.9 878.3,524.8 880.0,524.8 881.7,524.7 883.5,524.7 885.2,524.6 886.9,524.6 888.6,524.5 890.4,524.5 892.1,524.4 893.8,524.4 895.6,524.3 897.3,524.3 899.0,524.2 900.7,524.2"/>
<polyline fill="none" stroke="#e60012" stroke-width="3.8" stroke-linejoin="round" points="693.5,579.2 695.3,579.2 697.0,579.2 698.7,579.2 700.4,579.2 702.2,579.2 703.9,579.2 705.6,579.2 707.3,579.2 709.1,579.2 710.8,579.2 712.5,579.2 714.3,579.2 716.0,579.2 717.7,579.2 719.4,579.2 721.2,579.2 722.9,579.2 724.6,579.2 726.3,579.2 728.1,579.2 729.8,579.2 731.5,579.2 733.2,579.2 735.0,579.2 736.7,579.1 738.4,579.1 740.2,579.1 741.9,579.1 743.6,579.1 745.3,579.1 747.1,579.1 748.8,579.0 750.5,579.0 752.2,578.9 754.0,578.9 755.7,578.8 757.4,578.7 759.1,578.6 760.9,578.4 762.6,578.2 764.3,578.0 766.1,577.7 767.8,577.3 769.5,576.8 771.2,576.2 773.0,575.5 774.7,574.6 776.4,573.5 778.1,572.1 779.9,570.4 781.6,568.3 783.3,565.9 785.0,562.9 786.8,559.6 788.5,555.7 790.2,551.3 792.0,546.5 793.7,541.3 795.4,535.8 797.1,530.2 798.9,524.6 800.6,519.2 802.3,514.1 804.0,509.4 805.8,505.2 807.5,501.4 809.2,498.1 810.9,495.3 812.7,492.9 814.4,490.9 816.1,489.3 817.9,487.9 819.6,486.7 821.3,485.8 823.0,485.0 824.8,484.4 826.5,483.9 828.2,483.4 829.9,483.1 831.7,482.8 833.4,482.5 835.1,482.3 836.8,482.1 838.6,481.9 840.3,481.8 842.0,481.6 843.8,481.5 845.5,481.4 847.2,481.3 848.9,481.2 850.7,481.1 852.4,481.0 854.1,480.9 855.8,480.8 857.6,480.7 859.3,480.7 861.0,480.6 862.7,480.5 864.5,480.4 866.2,480.3 867.9,480.3 869.7,480.2 871.4,480.1 873.1,480.0 874.8,479.9 876.6,479.9 878.3,479.8 880.0,479.7 881.7,479.6 883.5,479.5 885.2,479.5 886.9,479.4 888.6,479.3 890.4,479.2 892.1,479.2 893.8,479.1 895.6,479.0 897.3,478.9 899.0,478.8 900.7,478.8"/>
</g>
<line x1="700.2" y1="435.3" x2="728" y2="435.3" stroke="#000" stroke-width="2.8"/>
<line x1="700.2" y1="455.700" x2="728" y2="455.700" stroke="#e60012" stroke-width="2.800"/>
<text x="734" y="440.7" font-size="16.1" class="k">Dark</text>
<text x="734" y="461.8" font-size="16.100" class="k">Visible light</text>
<text x="692.0" y="610.3" font-size="19.6" text-anchor="middle" class="k">-0.2</text>
<text x="762.6" y="610.3" font-size="19.6" text-anchor="middle" class="k">0.0</text>
<text x="831.7" y="610.3" font-size="19.6" text-anchor="middle" class="k">0.2</text>
<text x="900.7" y="610.3" font-size="19.6" text-anchor="middle" class="k">0.4</text>
<text x="681" y="585.2" font-size="19.6" text-anchor="end" class="k">0</text>
<text x="681" y="506.8" font-size="19.6" text-anchor="end" class="k">1</text>
<text x="681" y="428.3" font-size="19.6" text-anchor="end" class="k">2</text>
<text transform="translate(663.7,499) rotate(-90)" font-size="21.3" text-anchor="middle" class="k">Current / nA</text>
<text x="799.8" y="629" font-size="21.3" text-anchor="middle" class="k">Potential / V</text>
<text x="628.5" y="419.7" font-size="31">c</text>
<!-- ===== panel d (TEM) ===== -->
<defs>
<filter id="temN" x="0" y="0" width="100%" height="100%" color-interpolation-filters="sRGB"><feTurbulence type="fractalNoise" baseFrequency="0.2" numOctaves="2" seed="5" result="n"/><feColorMatrix in="n" type="matrix" values="0 0 0 0 0  0 0 0 0 0  0 0 0 0 0  -1.35 0 0 0 0.675" result="d"/><feColorMatrix in="n" type="matrix" values="0 0 0 0 1  0 0 0 0 1  0 0 0 0 1  1.35 0 0 0 -0.675" result="l"/><feMerge><feMergeNode in="d"/><feMergeNode in="l"/></feMerge></filter>
<filter id="temC" x="0" y="0" width="100%" height="100%" color-interpolation-filters="sRGB"><feTurbulence type="fractalNoise" baseFrequency="0.05" numOctaves="2" seed="31" result="n"/><feColorMatrix in="n" type="matrix" values="0 0 0 0 0  0 0 0 0 0  0 0 0 0 0  -2.0 0 0 0 1.0" result="d"/><feColorMatrix in="n" type="matrix" values="0 0 0 0 1  0 0 0 0 1  0 0 0 0 1  2.0 0 0 0 -1.0" result="l"/><feMerge><feMergeNode in="d"/><feMergeNode in="l"/></feMerge></filter>
<clipPath id="dclip"><rect x="957.9" y="363.8" width="225.5" height="186.1"/></clipPath>
<pattern id="fringe" width="3.2" height="3.2" patternUnits="userSpaceOnUse" patternTransform="rotate(-4)"><rect width="3.2" height="1.5" fill="#444"/></pattern>
<radialGradient id="frMask" cx="0.5" cy="0.5" r="0.5"><stop offset="0" stop-color="#fff"/><stop offset="0.7" stop-color="#fff" stop-opacity="0.7"/><stop offset="1" stop-color="#fff" stop-opacity="0"/></radialGradient>
<mask id="frM"><ellipse cx="1068" cy="452" rx="52" ry="48" fill="url(#frMask)"/></mask>
<mask id="frM2"><ellipse cx="1098" cy="390" rx="40" ry="22" fill="url(#frMask)"/></mask>
</defs>
<g clip-path="url(#dclip)">
<rect x="957.9" y="363.8" width="225.5" height="186.1" fill="#7b7b7b"/>
<rect x="957.9" y="363.8" width="225.5" height="186.1" filter="url(#temC)" opacity="0.6"/>
<g filter="url(#blur6)"><ellipse cx="1068" cy="455" rx="50" ry="46" fill="#3c3c3c" opacity="0.6"/><ellipse cx="1040" cy="381" rx="20" ry="9" fill="#c0c0c0" opacity="0.7"/><ellipse cx="1150" cy="390" rx="26" ry="16" fill="#9c9c9c" opacity="0.5"/><ellipse cx="1172" cy="470" rx="12" ry="40" fill="#929292" opacity="0.3"/><ellipse cx="985" cy="470" rx="20" ry="40" fill="#5c5c5c" opacity="0.4"/><ellipse cx="1110" cy="520" rx="50" ry="20" fill="#8a8a8a" opacity="0.4"/></g>
<rect x="957.9" y="363.8" width="225.5" height="186.1" fill="url(#fringe)" mask="url(#frM)" opacity="0.38"/>
<rect x="957.9" y="363.8" width="225.5" height="186.1" fill="url(#fringe)" mask="url(#frM2)" opacity="0.22"/>
<rect x="957.9" y="363.8" width="225.5" height="186.1" filter="url(#temN)" opacity="1"/>
</g>
<g font-size="21.3"><text x="1092.5" y="447.4" class="w">0.26 nm</text><text x="1127" y="535.4" class="w">5 nm</text></g>
<rect x="1133.5" y="540.4" width="36.3" height="4.6" fill="#fff"/>
<path d="M1066.7,460 L1098.2,457.8 M1066.7,462.9 L1098.2,460.7" stroke="#fff" stroke-width="1.3" fill="none"/>
<path d="M1081.7,432.5 h2.6 v13 l2.6,-1 l-3.9,9.5 l-3.9,-9.5 l2.6,1z M1081.7,486 h2.6 v-11 l2.6,1 l-3.9,-9.5 l-3.9,9.5 l2.6,-1z" fill="#fff"/>
<text x="926.5" y="370" font-size="31">d</text>
</svg>
</body></html>
